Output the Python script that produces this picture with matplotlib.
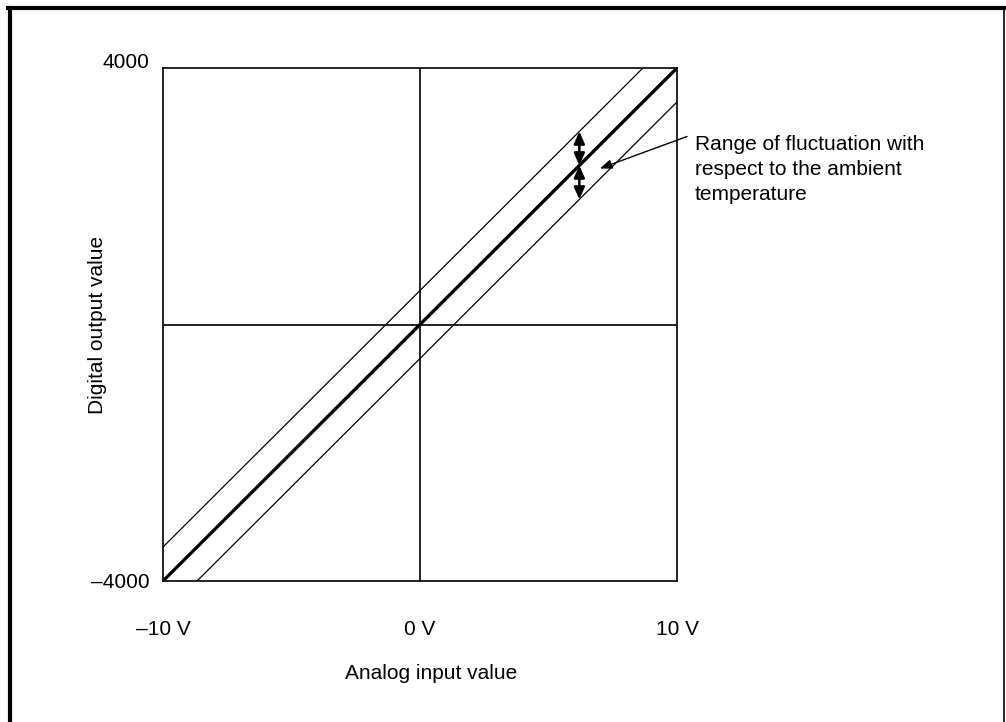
import numpy as np
import matplotlib
matplotlib.use('Agg')
import matplotlib.pyplot as plt
from matplotlib.lines import Line2D

plt.rcParams['font.family'] = ['Liberation Sans', 'DejaVu Sans']

# data
x_volt = [-10, 10]
digital = [-4000, 4000]
fluct = 530                     # offset of the fluctuation band
arrow_x = 6.2                   # where the double arrows sit
note_xy = (7.0, 2433)           # tip of the pointer
note_text_xy = (10.39, 2932)    # start of the pointer
note = 'Range of fluctuation with\nrespect to the ambient\ntemperature'
xtick_vals = [-10, 0, 10]
xtick_labels = ['\u201310 V', '0 V', '10 V']
ytick_vals = [-4000, 4000]
ytick_labels = ['\u20134000', '4000']

fs = 15

fig = plt.figure(figsize=(10.06, 7.22), dpi=100)
ax = fig.add_axes([163/1006, 141/722, 514/1006, 513/722])

x = np.array(x_volt)
y = np.array(digital)
ax.plot(x, y, color='black', lw=2.4, solid_capstyle='butt')
ax.plot(x, y + fluct, color='black', lw=0.9)
ax.plot(x, y - fluct, color='black', lw=0.9)

ax.axvline(0, color='black', lw=1.2)
ax.axhline(0, color='black', lw=1.2)

ax.set_xlim(-10, 10)
ax.set_ylim(-4000, 4000)

# double arrows showing the band
yc = digital[1] / x_volt[1] * arrow_x
arr = dict(arrowstyle='<|-|>,head_length=0.72,head_width=0.32', color='black',
           lw=1.8, mutation_scale=10, shrinkA=0, shrinkB=0)
ax.annotate('', xy=(arrow_x, yc + fluct), xytext=(arrow_x, yc), arrowprops=arr)
ax.annotate('', xy=(arrow_x, yc), xytext=(arrow_x, yc - fluct), arrowprops=arr)

# pointer + note
ax.annotate('', xy=note_xy, xytext=note_text_xy, annotation_clip=False,
            arrowprops=dict(arrowstyle='-|>,head_length=0.72,head_width=0.28',
                            color='black', lw=1.0, mutation_scale=10,
                            shrinkA=0, shrinkB=0))
ax.text(10.70, 2960, note, fontsize=fs, ha='left', va='top',
        linespacing=1.4, clip_on=False)

for s in ax.spines.values():
    s.set_linewidth(1.2)

ax.set_xticks(xtick_vals)
ax.set_xticklabels(xtick_labels)
ax.set_yticks(ytick_vals)
ax.set_yticklabels(ytick_labels)
ax.tick_params(axis='both', length=0, labelsize=fs)
ax.tick_params(axis='x', pad=28)
ax.tick_params(axis='y', pad=9.5)
ax.get_yticklabels()[1].set_va('baseline')

ax.set_xlabel('Analog input value', fontsize=fs, va='center')
ax.xaxis.set_label_coords(0.521, -0.181)
ax.set_ylabel('Digital output value', fontsize=fs, va='center')
ax.yaxis.set_label_coords(-0.128, 0.5)

# outer frame of the figure
fig.add_artist(Line2D([10/1006, 10/1006], [0, 1 - 8/722], color='black', lw=3))
fig.add_artist(Line2D([8/1006, 1004/1006], [1 - 8/722, 1 - 8/722], color='black', lw=3))
fig.add_artist(Line2D([1004/1006, 1004/1006], [0, 1 - 8/722], color='black', lw=1.2))

fig.savefig('out.png', dpi=100)
